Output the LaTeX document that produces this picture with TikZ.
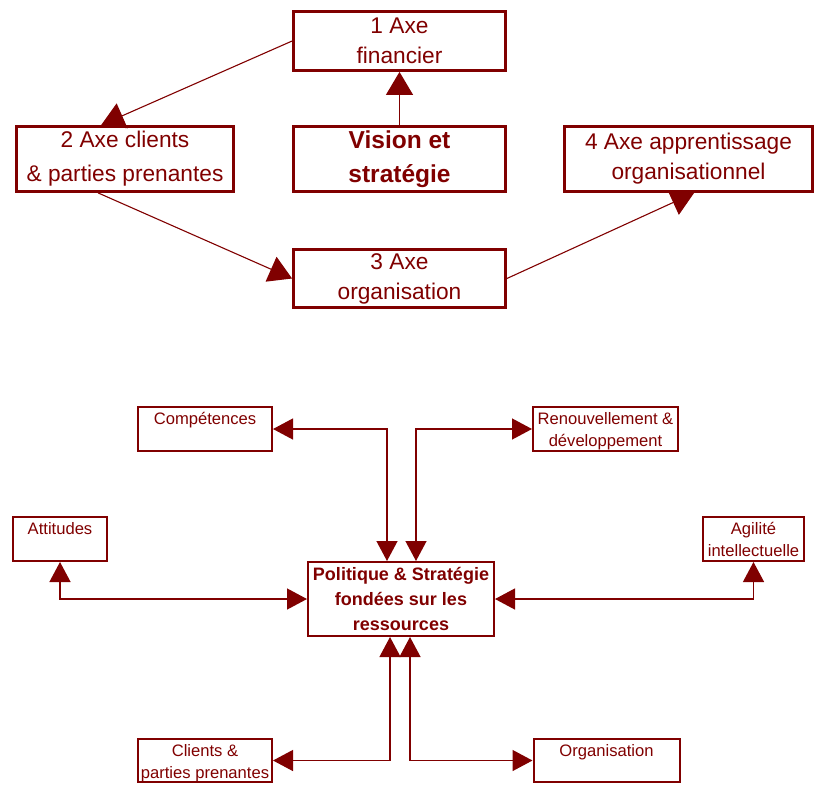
\documentclass[tikz,border=0pt]{standalone}
\usepackage{fontspec}
\setmainfont{Liberation Sans}
\usetikzlibrary{arrows.meta,calc}
\definecolor{maroon}{RGB}{128,0,0}
\tikzset{
  bigbox/.style={draw=maroon, line width=2.8pt, inner sep=0pt, align=center, text=maroon,
    font=\fontsize{22.7}{30}\selectfont},
  smallbox/.style={draw=maroon, line width=2pt, inner sep=0pt},
  smalltext/.style={text=maroon, align=center, inner sep=0pt, font=\fontsize{16.6}{22}\selectfont},
  toparrow/.style={draw=maroon, line width=1.1pt, -{Triangle[length=23pt,width=27pt]}},
  botarrow/.style={draw=maroon, line width=1.3pt, {Triangle[length=20pt,width=21pt]}-{Triangle[length=20pt,width=21pt]}},
}
\begin{document}
\begin{tikzpicture}[x=1pt,y=-1pt]
\useasboundingbox (0,0) rectangle (818,785);

% ---- top diagram ----
\node[bigbox, minimum width=212pt, minimum height=59pt] (b1) at (399.5,41) {1 Axe\\financier};
\node[bigbox, minimum width=212pt, minimum height=65pt, font=\bfseries\fontsize{24.5}{34}\selectfont] (vis) at (399.5,159) {Vision et\\stratégie};
\node[bigbox, minimum width=217pt, minimum height=65pt, font=\fontsize{22.7}{34}\selectfont] (b2) at (125,159) {2 Axe clients\\\& parties prenantes};
\node[bigbox, minimum width=212pt, minimum height=58pt] (b3) at (399.5,278.5) {3 Axe\\organisation};
\node[bigbox, minimum width=248pt, minimum height=65pt] (b4) at (688.5,159) {4 Axe apprentissage\\organisationnel};

\draw[toparrow] (vis.north) -- (b1.south);
\draw[toparrow] (b1.west) -- ($(b2.north west)+(86,0)$);
\draw[toparrow] ($(b2.south west)+(83,0)$) -- (b3.west);
\draw[toparrow] (b3.east) -- ($(b4.south west)+(131,0)$);

% ---- bottom diagram ----
\node[smallbox, minimum width=134pt, minimum height=44pt] (comp) at (205,429) {};
\node[smalltext, anchor=north] (compt) at ($(comp.north)+(0,6)$) {Compétences};

\node[smallbox, minimum width=145pt, minimum height=44pt] (ren) at (605.5,429) {};
\node[smalltext, anchor=north] (rent) at ($(ren.north)+(0,6)$) {Renouvellement \&\\développement};

\node[smallbox, minimum width=94pt, minimum height=44pt] (att) at (60,539) {};
\node[smalltext, anchor=north] (attt) at ($(att.north)+(0,6)$) {Attitudes};

\node[smallbox, minimum width=101pt, minimum height=44pt] (agi) at (753.5,539) {};
\node[smalltext, anchor=north] (agit) at ($(agi.north)+(0,6)$) {Agilité\\intellectuelle};

\node[smallbox, minimum width=186pt, minimum height=74pt, text=maroon, align=center,
  font=\bfseries\fontsize{18}{25}\selectfont] (pol) at (401,599) {Politique \& Stratégie\\fondées sur les\\ressources};

\node[smallbox, minimum width=134pt, minimum height=43pt] (cli) at (205,760.5) {};
\node[smalltext, anchor=north] (clit) at ($(cli.north)+(0,6)$) {Clients \&\\parties prenantes};

\node[smallbox, minimum width=146pt, minimum height=43pt] (org) at (606.5,760.5) {};
\node[smalltext, anchor=north] (orgt) at ($(org.north)+(0,6)$) {Organisation};

\draw[botarrow] (comp.east) -| ($(pol.north west)+(80,0)$);
\draw[botarrow] (ren.west) -| ($(pol.north west)+(109,0)$);
\draw[botarrow] (att.south) |- (pol.west);
\draw[botarrow] (agi.south) |- (pol.east);
\draw[botarrow] (cli.east) -| ($(pol.south west)+(83,0)$);
\draw[botarrow] (org.west) -| ($(pol.south west)+(103,0)$);
\end{tikzpicture}
\end{document}
